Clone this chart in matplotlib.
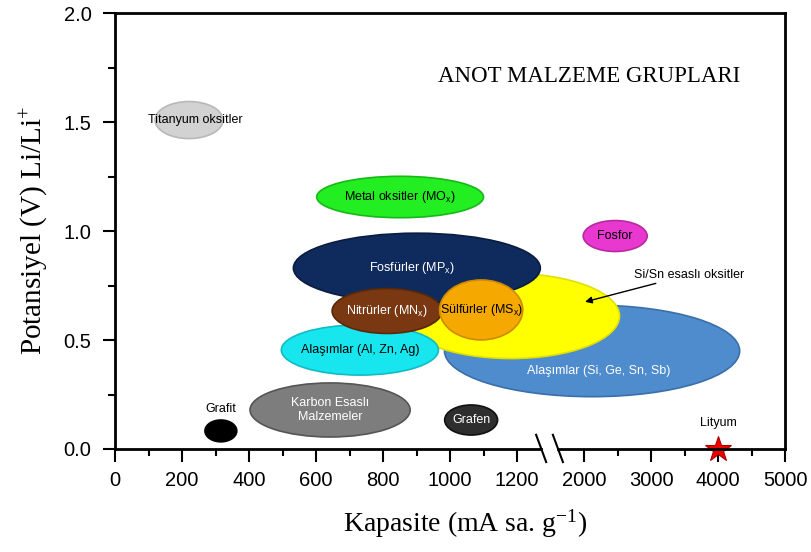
import numpy as np
import matplotlib
matplotlib.use("Agg")
import matplotlib.pyplot as plt
from matplotlib.patches import Ellipse
from matplotlib.lines import Line2D

plt.rcParams['font.family'] = ['Liberation Sans', 'DejaVu Sans']
plt.rcParams['mathtext.default'] = 'regular'

# kırık eksen: 0-1300 doğrusal, 1500-5000 sıkıştırılmış (1/5)
BREAK_LO = 1300
BREAK_HI = 1500

def to_pos(c):
    c = np.asarray(c, dtype=float)
    return np.where(c <= BREAK_LO, c, BREAK_LO + (c - BREAK_HI) / 5.0)

# eksen değerleri
x_major = [0, 200, 400, 600, 800, 1000, 1200, 2000, 3000, 4000, 5000]
x_minor = [100, 300, 500, 700, 900, 1100, 2500, 3500, 4500]
y_major = [0.0, 0.5, 1.0, 1.5, 2.0]
y_minor = [0.25, 0.75, 1.25, 1.75]

# malzeme grupları (x: eksen konumu, kırık eksen ölçeğinde)
names = ["Alaşımlar (Si, Ge, Sn, Sb)", "", "Fosfürler (MP$_x$)",
         "Alaşımlar (Al, Zn, Ag)", "Nitrürler (MN$_x$)", "Sülfürler (MS$_x$)",
         "Titanyum oksitler", "Metal oksitler (MO$_x$)", "Fosfor",
         "Karbon Esaslı\nMalzemeler", "Grafen", ""]
x_center = [1424, 1182, 901, 731, 812, 1093, 221, 851, 1493, 642, 1063, 316]
y_center = [0.450, 0.610, 0.830, 0.454, 0.633, 0.638, 1.509, 1.156, 0.977, 0.179, 0.133, 0.083]
x_width = [881, 648, 737, 469, 328, 248, 203, 498, 191, 478, 158, 95]
y_height = [0.42, 0.39, 0.32, 0.23, 0.206, 0.275, 0.17, 0.19, 0.142, 0.248, 0.138, 0.10]
face_colors = ['#4f8ccd', '#ffff00', '#0f2a5c', '#18e6ee', '#7a3812', '#f5a900',
               '#d2d2d2', '#22ee22', '#e838d0', '#7d7d7d', '#2e2e2e', '#000000']
edge_colors = ['#3a6fa8', '#e0e000', '#0a1c40', '#10bcc4', '#5a2808', '#d08a00',
               '#b8b8b8', '#18b818', '#b82aa4', '#555555', '#111111', '#000000']
text_colors = ['white', 'black', 'white', 'black', 'white', 'black',
               'black', 'black', 'black', 'white', 'white', 'black']
text_dx = [20, 0, -15, 0, 0, 0, 20, 0, 0, 0, 0, 0]

lityum_x = 4000
lityum_y = 0.0

fig = plt.figure(figsize=(8.11, 5.52), dpi=100)
ax = fig.add_axes([0.1418, 0.1866, 0.968 - 0.1418, 0.9764 - 0.1866])
ax.set_xlim(0, to_pos(5000))
ax.set_ylim(0, 2.0)

for i in range(len(names)):
    e = Ellipse((x_center[i], y_center[i]), x_width[i], y_height[i],
                facecolor=face_colors[i], edgecolor=edge_colors[i], linewidth=1.2,
                zorder=2 + i)
    ax.add_patch(e)
    if names[i]:
        ax.text(x_center[i] + text_dx[i], y_center[i] - (0.09 if i == 0 else 0), names[i],
                color=text_colors[i], fontsize=9, ha='center', va='center',
                zorder=20, linespacing=1.3)

ax.text(316, 0.183, "Grafit", fontsize=9, ha='center', va='center', zorder=20)

# Si/Sn oksit oku
ax.annotate("Si/Sn esaslı oksitler", xy=(1403, 0.675), xytext=(1550, 0.800),
            fontsize=9, ha='left', va='center', zorder=20,
            arrowprops=dict(arrowstyle='-|>', color='black', lw=1.0,
                            shrinkA=0, shrinkB=0, mutation_scale=10))

# Lityum
ax.plot(to_pos(lityum_x), lityum_y, marker='*', markersize=19, color='#ee0000',
        markeredgecolor='#aa0000', markeredgewidth=0.8, clip_on=False, zorder=25)
ax.text(to_pos(lityum_x), 0.12, "Lityum", fontsize=9, ha='center', va='center', zorder=20)

ax.text(1415, 1.71, "ANOT MALZEME GRUPLARI", family=['Liberation Serif'],
        fontsize=16.5, ha='center', va='center')

# eksenler
ax.set_xticks(to_pos(x_major))
ax.set_xticklabels([str(v) for v in x_major])
ax.set_xticks(to_pos(x_minor), minor=True)
ax.set_yticks(y_major)
ax.set_yticklabels([f"{v:.1f}" for v in y_major])
ax.set_yticks(y_minor, minor=True)
ax.tick_params(axis='both', which='major', direction='out', length=9, width=1.5,
               labelsize=14.5)
ax.tick_params(axis='both', which='minor', direction='out', length=5, width=1.5)
ax.tick_params(axis='y', which='major', pad=8)
ax.tick_params(axis='x', which='major', pad=7)

for s in ax.spines.values():
    s.set_linewidth(2)

# alt eksende kırık
gap_l, gap_r = 1272, 1322
ax.spines['bottom'].set_bounds(0, gap_l)
ax.add_line(Line2D([gap_r, to_pos(5000)], [0, 0], color='black', linewidth=2,
                   clip_on=False, zorder=30))
for gx in (gap_l, gap_r):
    ax.plot([gx - 15, gx + 15], [0.065, -0.06], color='black', linewidth=1.5,
            clip_on=False, zorder=30)

ax.set_xlabel("Kapasite (mA sa. g$^{-1}$)", family=['Liberation Serif'],
              fontsize=20)
ax.xaxis.set_label_coords(0.522, -0.135)
ax.set_ylabel("Potansiyel (V) Li/Li$^{+}$", family=['Liberation Serif'],
              fontsize=21, labelpad=10)

plt.savefig("out.png", dpi=100)
plt.close()
